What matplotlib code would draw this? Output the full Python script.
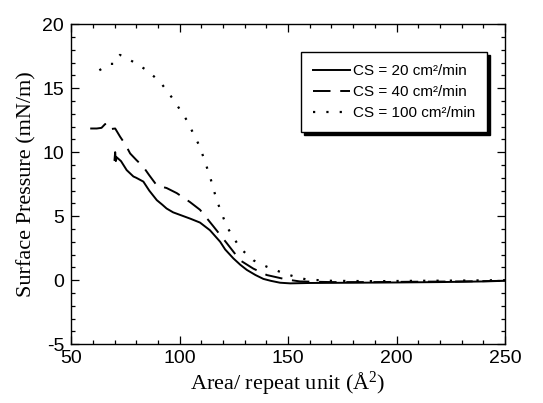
import numpy as np
import matplotlib
matplotlib.use("Agg")
import matplotlib.pyplot as plt
from matplotlib.ticker import MultipleLocator

plt.rcParams['mathtext.fontset'] = 'custom'
plt.rcParams['mathtext.rm'] = 'Liberation Serif'
plt.rcParams['mathtext.it'] = 'Liberation Serif'
plt.rcParams['mathtext.default'] = 'regular'
plt.rcParams['axes.unicode_minus'] = False

# CS = 20 cm2/min
area_20 = [70.0, 70.3, 70.6, 71.0, 73.0, 75.6, 78.7, 80.0, 83.3, 86.0, 89.5, 92.0, 94.0,
           97.0, 100.2, 105.0, 109.4, 114.0, 118.7, 121.0, 124.8, 128.0, 131.0, 135.0,
           138.6, 142.0, 146.3, 151.0, 160.0, 180.0, 200.0, 220.0, 240.0, 250.0]
press_20 = [9.4, 10.0, 9.3, 9.6, 9.3, 8.6, 8.1, 8.0, 7.7, 7.0, 6.25, 5.9, 5.6,
            5.3, 5.1, 4.8, 4.5, 3.9, 3.0, 2.4, 1.7, 1.2, 0.8, 0.4,
            0.1, -0.05, -0.2, -0.25, -0.22, -0.2, -0.18, -0.15, -0.1, -0.05]

# CS = 40 cm2/min
area_40 = [58.8, 61.8, 64.0, 65.7, 66.4, 68.0, 70.3, 72.6, 75.0, 77.2, 80.0, 83.3, 86.0,
           89.5, 94.0, 98.7, 104.8, 109.4, 115.6, 121.7, 127.9, 134.0, 140.2, 149.4,
           155.5, 170.0, 190.0, 210.0, 230.0, 250.0]
press_40 = [11.85, 11.85, 11.9, 12.2, 11.8, 11.8, 11.85, 11.2, 10.6, 9.9, 9.4, 8.85, 8.2,
            7.4, 7.2, 6.8, 6.1, 5.5, 4.2, 2.9, 1.55, 0.9, 0.4, 0.05,
            -0.1, -0.15, -0.15, -0.12, -0.1, -0.05]

# CS = 100 cm2/min
area_100 = [63.0, 66.0, 68.0, 70.0, 72.5, 75.0, 78.7, 84.9, 91.0, 97.2, 103.3, 109.4,
            114.0, 117.1, 121.7, 127.9, 134.0, 140.2, 146.3, 152.5, 158.6, 170.0,
            190.0, 210.0, 230.0, 250.0]
press_100 = [16.4, 16.7, 16.9, 16.9, 17.6, 17.4, 17.05, 16.4, 15.5, 14.1, 12.5, 10.4,
             8.1, 6.25, 4.2, 2.5, 1.55, 1.05, 0.65, 0.3, 0.05, -0.05,
             -0.08, -0.05, -0.03, 0.0]

labels = ['CS = 20 cm²/min', 'CS = 40 cm²/min', 'CS = 100 cm²/min']

fig = plt.figure(figsize=(5.43, 4.03), dpi=100)
ax = fig.add_axes([0.131, 0.146, 0.799, 0.794])

ax.plot(area_20, press_20, color='black', lw=1.4, ls='-', label=labels[0])
ax.plot(area_40, press_40, color='black', lw=1.4, ls=(0, (9, 5)), label=labels[1])
ax.plot(area_100, press_100, color='black', lw=1.6, ls=(0, (1, 5)), label=labels[2])

ax.set_xlim(50, 250)
ax.set_ylim(-5, 20)
ax.xaxis.set_major_locator(MultipleLocator(50))
ax.xaxis.set_minor_locator(MultipleLocator(10))
ax.yaxis.set_major_locator(MultipleLocator(5))
ax.yaxis.set_minor_locator(MultipleLocator(1))
ax.tick_params(which='both', direction='in', top=True, right=True, width=0.9)
ax.tick_params(which='major', length=6)
ax.tick_params(which='minor', length=3)
for lab in ax.get_xticklabels() + ax.get_yticklabels():
    lab.set_fontfamily('Liberation Sans')
    lab.set_fontsize(14)
ax.tick_params(axis='x', pad=4)
ax.tick_params(axis='y', pad=5)
for sp in ax.spines.values():
    sp.set_linewidth(1.0)

ax.set_xlabel('Area/ repeat unit (Å$^2$)', fontfamily='Liberation Serif', fontsize=16, labelpad=2)
ax.set_ylabel('Surface Pressure (mN/m)', fontfamily='Liberation Serif', fontsize=16, labelpad=4)

leg = ax.legend(loc='upper left', bbox_to_anchor=(301 / 543, 1 - 52 / 403),
                bbox_transform=fig.transFigure, borderaxespad=0, fancybox=False,
                framealpha=1, edgecolor='black', shadow={'color': 'black', 'alpha': 1},
                prop={'family': 'Liberation Sans', 'size': 11},
                handlelength=2.4, handletextpad=0.2, borderpad=0.8, labelspacing=0.45)
leg.get_frame().set_linewidth(1.0)

fig.savefig('out.png', dpi=100)
